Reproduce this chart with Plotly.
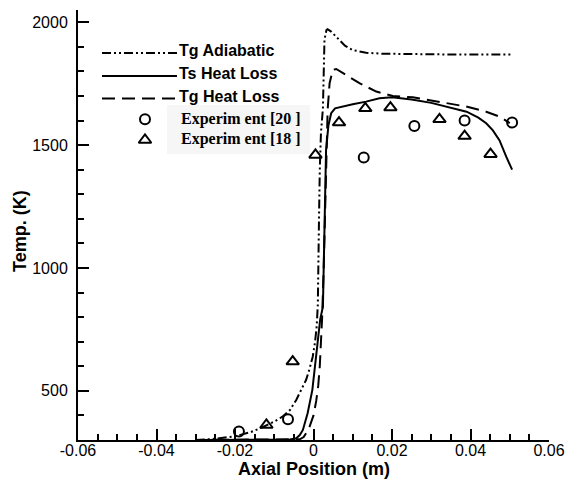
import plotly.graph_objects as go

# ---------------- data ----------------
adi_x = [-0.030, -0.025, -0.020, -0.016, -0.013, -0.010, -0.008, -0.006, -0.0044, -0.003,
         -0.0019, -0.001, -0.0002, 0.0004, 0.0008, 0.0011, 0.0013, 0.0014, 0.0016, 0.0019,
         0.0024, 0.0025, 0.0028, 0.0033, 0.0036, 0.0045, 0.0055, 0.0066, 0.008, 0.010,
         0.012, 0.0134, 0.0177, 0.025, 0.035, 0.045, 0.0508]
adi_T = [300, 305, 315, 332, 352, 375, 394, 422, 463, 505,
         544, 590, 639, 700, 760, 850, 1000, 1200, 1400, 1550,
         1650, 1780, 1930, 1968, 1972, 1962, 1945, 1928, 1905, 1887,
         1879, 1876, 1872, 1870, 1869, 1869, 1869]

ts_x = [-0.030, -0.008, -0.006, -0.0044, -0.0035, -0.0027, -0.0015, -0.0003, 0.0005, 0.0011,
        0.0017, 0.0024, 0.0028, 0.0032, 0.0038, 0.0045, 0.0055, 0.0075, 0.010, 0.0134,
        0.0168, 0.020, 0.025, 0.030, 0.034, 0.039, 0.042, 0.044, 0.0457, 0.0474,
        0.0491, 0.0506]
ts_T = [300, 300.5, 302, 307, 320, 341, 409, 503, 612, 720,
        790, 843, 1200, 1480, 1580, 1630, 1650, 1658, 1666, 1677,
        1691, 1695, 1686, 1672, 1657, 1636, 1612, 1589, 1560, 1519,
        1453, 1400]

tg_x = [-0.030, -0.005, -0.0035, -0.0025, -0.0012, 0.0, 0.0007, 0.0012, 0.0016, 0.0019,
        0.0022, 0.0026, 0.003, 0.0033, 0.0036, 0.0041, 0.0049, 0.0058, 0.0083, 0.0117,
        0.016, 0.0202, 0.0253, 0.0338, 0.0389, 0.044, 0.0474, 0.050]
tg_T = [300, 300, 303, 312, 345, 400, 460, 520, 600, 700,
        800, 1000, 1300, 1500, 1643, 1752, 1806, 1810, 1786, 1752,
        1718, 1700, 1695, 1673, 1657, 1636, 1616, 1590]

exp20_x = [-0.019, -0.0065, 0.0128, 0.0257, 0.0385, 0.0506]
exp20_T = [335, 384, 1450, 1578, 1600, 1592]

exp18_x = [-0.012, -0.0053, 0.0005, 0.0065, 0.0132, 0.0196, 0.0321, 0.0385, 0.0451]
exp18_T = [361, 619, 1460, 1592, 1650, 1653, 1605, 1537, 1463]

x_tickvals = [-0.06, -0.04, -0.02, 0, 0.02, 0.04, 0.06]
x_ticktext = ["-0.06", "-0.04", "-0.02", "0", "0.02", "0.04", "0.06"]
y_tickvals = [500, 1000, 1500, 2000]
y_ticktext = ["500", "1000", "1500", "2000"]

x_title = "Axial Position (m)"
y_title = "Temp. (K)"
legend_labels = ["Tg Adiabatic", "Ts Heat Loss", "Tg Heat Loss",
                 "Experim ent [20 ]", "Experim ent [18 ]"]

# ---------------- styles ----------------
DASHDOTDOT = "9px,3px,2px,3px,2px,3px"
LONGDASH = "13px,7px"
SANS = "Liberation Sans, Arial, sans-serif"
SERIF = "Liberation Serif, Times New Roman, serif"

fig = go.Figure()

fig.add_trace(go.Scatter(x=adi_x, y=adi_T, mode="lines", name=legend_labels[0],
                         line=dict(color="black", width=2, dash=DASHDOTDOT), showlegend=False))
fig.add_trace(go.Scatter(x=ts_x, y=ts_T, mode="lines", name=legend_labels[1],
                         line=dict(color="black", width=2), showlegend=False))
fig.add_trace(go.Scatter(x=tg_x, y=tg_T, mode="lines", name=legend_labels[2],
                         line=dict(color="black", width=2, dash=LONGDASH), showlegend=False))
fig.add_trace(go.Scatter(x=exp20_x, y=exp20_T, mode="markers", name=legend_labels[3],
                         marker=dict(symbol="circle-open", size=10, color="black",
                                     line=dict(width=2, color="black")), showlegend=False))
fig.add_trace(go.Scatter(x=exp18_x, y=exp18_T, mode="markers", name=legend_labels[4],
                         marker=dict(symbol="triangle-up-open", size=11, color="black",
                                     line=dict(width=2, color="black")), showlegend=False))

# ---------------- manual legend on a pixel-scaled overlay axis ----------------
fig.add_shape(type="rect", xref="x2", yref="y2", x0=167, x1=310, y0=105, y1=154,
              fillcolor="#f6f6f6", line=dict(width=0), layer="below")

leg_line_y = [53, 76, 98.5]
leg_text_y = [50.5, 73.5, 96.5]
leg_dash = [DASHDOTDOT, "solid", LONGDASH]
for i in range(3):
    fig.add_trace(go.Scatter(x=[102, 177], y=[leg_line_y[i]] * 2, xaxis="x2", yaxis="y2",
                             mode="lines", line=dict(color="black", width=2, dash=leg_dash[i]),
                             showlegend=False, hoverinfo="skip"))
    fig.add_annotation(x=177, y=leg_text_y[i], xref="x2", yref="y2", text="<b>%s</b>" % legend_labels[i],
                       showarrow=False, xanchor="left", yanchor="middle",
                       font=dict(family=SANS, size=16, color="black"))

fig.add_trace(go.Scatter(x=[145], y=[119.3], xaxis="x2", yaxis="y2", mode="markers",
                         marker=dict(symbol="circle-open", size=10, color="black", line=dict(width=2)),
                         showlegend=False, hoverinfo="skip"))
fig.add_trace(go.Scatter(x=[145], y=[140], xaxis="x2", yaxis="y2", mode="markers",
                         marker=dict(symbol="triangle-up-open", size=11, color="black", line=dict(width=2)),
                         showlegend=False, hoverinfo="skip"))
for lbl, yy in [(legend_labels[3], 119.3), (legend_labels[4], 138.7)]:
    fig.add_annotation(x=179, y=yy, xref="x2", yref="y2", text="<b>%s</b>" % lbl,
                       showarrow=False, xanchor="left", yanchor="middle",
                       font=dict(family=SERIF, size=16, color="black"))

# axis titles as paper-positioned annotations
PLOT_L, PLOT_R, PLOT_T, PLOT_B = 78, 549, 10, 440
def px_to_paper(px, py):
    return (px - PLOT_L) / (PLOT_R - PLOT_L), (PLOT_B - py) / (PLOT_B - PLOT_T)

xt_x, xt_y = px_to_paper(313.5, 469)
yt_x, yt_y = px_to_paper(20, 231)
fig.add_annotation(x=xt_x, y=xt_y, xref="paper", yref="paper", text="<b>%s</b>" % x_title,
                   showarrow=False, xanchor="center", yanchor="middle",
                   font=dict(family=SANS, size=18, color="black"))
fig.add_annotation(x=yt_x, y=yt_y, xref="paper", yref="paper", text="<b>%s</b>" % y_title,
                   textangle=-90, showarrow=False, xanchor="center", yanchor="middle",
                   font=dict(family=SANS, size=18, color="black"))

fig.update_layout(
    width=566, height=481,
    margin=dict(l=PLOT_L, r=566 - PLOT_R, t=PLOT_T, b=481 - PLOT_B, autoexpand=False),
    paper_bgcolor="white", plot_bgcolor="white",
    font=dict(family=SANS, color="black"),
    xaxis=dict(range=[-0.06, 0.06], tickmode="array", tickvals=x_tickvals, ticktext=x_ticktext,
               ticks="inside", ticklen=11, tickwidth=2, tickcolor="black", automargin=False,
               showline=True, linewidth=2, linecolor="black", showgrid=False, zeroline=False,
               tickfont=dict(size=16, family=SANS), ticklabelstandoff=-5,
               minor=dict(tickmode="linear", tick0=0, dtick=0.005, ticks="inside", ticklen=6,
                          tickwidth=1.5, tickcolor="black", showgrid=False)),
    yaxis=dict(range=[300, 2050], tickmode="array", tickvals=y_tickvals, ticktext=y_ticktext,
               ticks="inside", ticklen=11, tickwidth=2, tickcolor="black", automargin=False,
               showline=True, linewidth=2, linecolor="black", showgrid=False, zeroline=False,
               tickfont=dict(size=16, family=SANS), ticklabelstandoff=5,
               minor=dict(tickmode="linear", tick0=0, dtick=100, ticks="inside", ticklen=6,
                          tickwidth=1.5, tickcolor="black", showgrid=False)),
    xaxis2=dict(overlaying="x", range=[78, 549], visible=False, fixedrange=True),
    yaxis2=dict(overlaying="y", range=[440, 10], visible=False, fixedrange=True),
    showlegend=False,
)

fig.write_html("out.html")
